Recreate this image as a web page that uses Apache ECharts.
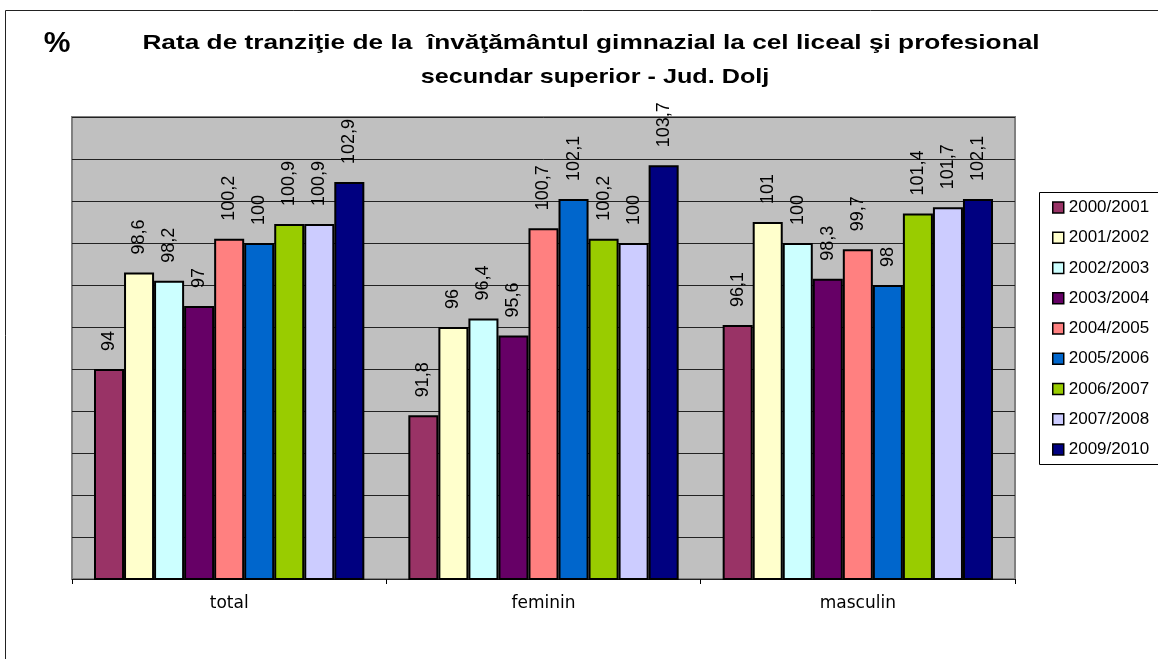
<!DOCTYPE html>
<html>
<head>
<meta charset="utf-8">
<script src="https://cdn.jsdelivr.net/npm/echarts@6/dist/echarts.min.js"></script>
<style>
html,body{margin:0;padding:0;background:#fff;}
#c{width:1158px;height:659px;}
</style>
</head>
<body>
<div id="c"></div>
<script>
const categories = ['total', 'feminin', 'masculin'];
const seriesNames = ['2000/2001','2001/2002','2002/2003','2003/2004','2004/2005','2005/2006','2006/2007','2007/2008','2009/2010'];
const colors = ['#993366','#FFFFCC','#CCFFFF','#660066','#FF8080','#0066CC','#99CC00','#CCCCFF','#000080'];
const s2000 = [94, 91.8, 96.1];
const s2001 = [98.6, 96, 101];
const s2002 = [98.2, 96.4, 100];
const s2003 = [97, 95.6, 98.3];
const s2004 = [100.2, 100.7, 99.7];
const s2005 = [100, 102.1, 98];
const s2006 = [100.9, 100.2, 101.4];
const s2007 = [100.9, 100, 101.7];
const s2009 = [102.9, 103.7, 102.1];
const seriesValues = [s2000, s2001, s2002, s2003, s2004, s2005, s2006, s2007, s2009];
const titleLine1 = 'Rata de tranziţie de la  învăţământul gimnazial la cel liceal şi profesional';
const titleLine2 = 'secundar superior - Jud. Dolj';

const font = '"Liberation Sans", Arial, sans-serif';
const chart = echarts.init(document.getElementById('c'));
chart.setOption({
  animation: false,
  color: colors,
  graphic: [
    { type: 'rect', shape: { x: 5.5, y: 10.5, width: 1200, height: 700 }, style: { fill: 'none', stroke: '#222', lineWidth: 1 }, z: 0 },
    { type: 'rect', shape: { x: 1039.5, y: 192.5, width: 200, height: 272 }, style: { fill: '#fff', stroke: '#000', lineWidth: 1 }, z: 1 },
    { type: 'text', x: 57, y: 44, style: { text: '%', font: 'bold 30px ' + font, fill: '#000', textAlign: 'center', textVerticalAlign: 'middle' } },
    { type: 'text', x: 591, y: 43, scaleX: 1.25, style: { text: titleLine1, font: 'bold 21px ' + font, fill: '#000', textAlign: 'center', textVerticalAlign: 'middle' } },
    { type: 'text', x: 595, y: 77, scaleX: 1.2, style: { text: titleLine2, font: 'bold 21px ' + font, fill: '#000', textAlign: 'center', textVerticalAlign: 'middle' } }
  ],
  legend: {
    orient: 'vertical', left: 1039, top: 192,
    data: seriesNames,
    itemWidth: 11, itemHeight: 11, itemGap: 13.25,
    padding: [7, 40, 7, 13],
    borderWidth: 0,
    itemStyle: { borderColor: '#000', borderWidth: 1.5 },
    textStyle: { fontFamily: font, fontSize: 17, color: '#000', lineHeight: 17 },
    icon: 'rect', z: 5
  },
  grid: { left: 72, right: 143, top: 117, bottom: 80, show: true, backgroundColor: '#C0C0C0', borderColor: '#808080', borderWidth: 2 },
  xAxis: {
    type: 'category', data: categories,
    axisLine: { show: false },
    axisTick: { show: true, length: 5, lineStyle: { color: '#000' }, interval: 0 },
    axisLabel: { fontFamily: '"DejaVu Sans"', fontSize: 17, color: '#000', margin: 16, lineHeight: 17 }
  },
  yAxis: {
    type: 'value', min: 84, max: 106, interval: 2,
    axisLine: { show: false }, axisTick: { show: false }, axisLabel: { show: false },
    splitLine: { lineStyle: { color: '#222', width: 1 } }
  },
  series: seriesNames.map((n, i) => ({
    name: n, type: 'bar', data: seriesValues[i],
    barGap: '0%', barCategoryGap: '14%',
    itemStyle: { color: colors[i], borderColor: '#000', borderWidth: 2 },
    label: {
      show: true, position: 'top', rotate: 90, align: 'left', verticalAlign: 'middle', distance: 18,
      fontFamily: font, fontSize: 18, color: '#000',
      formatter: p => String(p.value).replace('.', ',')
    }
  }))
});
</script>
</body>
</html>
